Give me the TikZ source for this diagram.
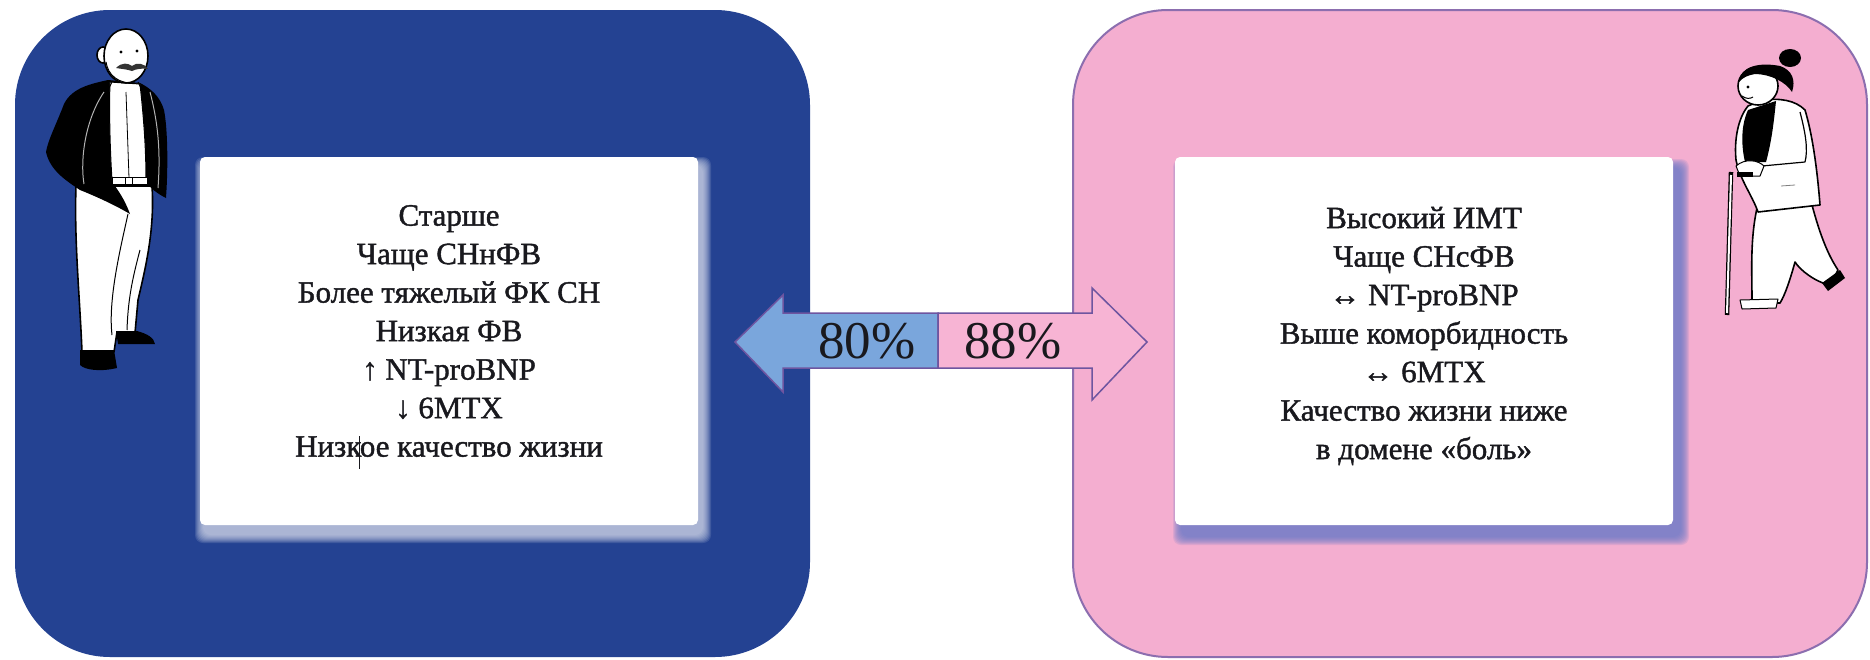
\documentclass[tikz,border=0pt]{standalone}
\usepackage{fontspec}
\setmainfont{Liberation Serif}
\newfontfamily\cardfont[FakeBold=1.3]{Liberation Serif}
\definecolor{panelblue}{RGB}{36,66,146}
\definecolor{panelpink}{RGB}{244,174,208}
\definecolor{pinkedge}{RGB}{140,110,175}
\definecolor{arrowblue}{RGB}{122,166,220}
\definecolor{arrowpink}{RGB}{247,180,212}
\definecolor{arrowedge}{RGB}{110,85,160}
\definecolor{shadowblue}{RGB}{105,122,200}
\definecolor{glowcol}{RGB}{220,223,238}
\definecolor{inktext}{RGB}{25,25,30}
\begin{document}
\begin{tikzpicture}[x=1pt,y=-1pt,
  panel/.style={rounded corners=95pt},
  card/.style={fill=white, rounded corners=5pt},
  cardtext/.style={align=center, text=inktext, font=\cardfont\fontsize{31}{38.5}\selectfont},
  pct/.style={text=inktext, font=\fontsize{53}{53}\selectfont, inner sep=0pt},
  arrowpart/.style={draw=arrowedge, line width=1.5pt, line join=miter},
  figline/.style={draw=black, line width=1.6pt, line join=round},
  thinline/.style={draw=black, line width=1pt, line join=round}]
\useasboundingbox (0,0) rectangle (1870,659);
\fill[white] (0,0) rectangle (1870,659);

% two coloured panels
\fill[panelblue, panel] (15,10) rectangle (810,657);
\filldraw[fill=panelpink, draw=pinkedge, line width=2pt, panel] (1073,10) rectangle (1867,657);

% soft shadows under the cards
\foreach \k in {1,...,9}
  \fill[glowcol, opacity=0.14, rounded corners=8pt]
    (200+4-\k, 157+9-\k) rectangle (698+4+\k, 525+9+\k);
\foreach \k in {1,...,9}
  \fill[shadowblue, opacity=0.16, rounded corners=8pt]
    (1175+7-\k, 157+11-\k) rectangle (1673+7+\k, 525+11+\k);

% white cards
\fill[card] (200,157) rectangle (698,525);
\fill[card] (1175,157) rectangle (1673,525);

\node[cardtext] (lefttext) at (449,331) {Старше\\Чаще СНнФВ\\Более тяжелый ФК СН\\Низкая ФВ\\↑ NT-proBNP\\↓ 6MTX\\Низкое качество жизни};
\node[cardtext] (righttext) at (1424,336) {Высокий ИМТ\\Чаще СНсФВ\\↔ NT-proBNP\\Выше коморбидность\\↔ 6MTX\\Качество жизни ниже\\в домене «боль»};
% thin stroke crossing the last line of the left card
\draw[line width=1pt, inktext] (359,436) -- (359,469);

% double arrow between the panels
\filldraw[arrowpart, fill=arrowblue] (938,313) -- (783,313) -- (783,295) -- (735,342) -- (783,392) -- (783,368) -- (938,368) -- cycle;
\filldraw[arrowpart, fill=arrowpink] (938,313) -- (1092,313) -- (1092,288) -- (1147,342) -- (1092,400) -- (1092,368) -- (938,368) -- cycle;
\node[pct, anchor=base] (leftpct) at (867,358) {80\%};
\node[pct, anchor=base] (rightpct) at (1013,358) {88\%};

% ---- old man ----
% trousers
\filldraw[figline, fill=white] (76,186) -- (152,186) .. controls (155,230) and (145,270) .. (138,300) -- (135,333) -- (117,332) -- (114,352) -- (82,352) .. controls (80,300) and (74,240) .. (76,186) -- cycle;
\draw[thinline] (128,214) .. controls (120,250) and (108,300) .. (112,335);
\draw[thinline] (140,250) .. controls (132,280) and (128,300) .. (127,330);
% shoes
\fill[black] (80,350) -- (114,350) -- (117,368) .. controls (100,372) and (85,370) .. (80,365) -- cycle;
\fill[black] (116,331) -- (137,331) .. controls (148,334) and (154,338) .. (155,344) -- (118,344) -- cycle;
% jacket
\fill[black] (108,80) .. controls (90,84) and (72,88) .. (64,104) .. controls (56,125) and (48,140) .. (46,152) .. controls (50,170) and (65,180) .. (80,190) .. controls (95,196) and (115,205) .. (130,214) .. controls (125,200) and (118,190) .. (112,182) -- (146,182) .. controls (150,188) and (158,194) .. (166,198) .. controls (168,170) and (168,130) .. (164,110) .. controls (160,96) and (150,88) .. (140,83) -- cycle;
\draw[gray!60, line width=1pt] (104,92) .. controls (85,120) and (80,160) .. (84,184);
\draw[gray!60, line width=1pt] (150,92) .. controls (160,130) and (160,160) .. (158,188);
% shirt and belt
\filldraw[thinline, fill=white] (110,82) -- (140,84) .. controls (144,120) and (146,150) .. (146,180) -- (112,180) .. controls (110,150) and (109,110) .. (110,82) -- cycle;
\draw[line width=0.8pt] (126,92) -- (129,178);
\filldraw[thinline, fill=white] (112,177) rectangle (147,184);
\draw[line width=0.8pt] (125,177) rectangle (132,184);
% head with moustache
\filldraw[figline, fill=white] (103,55) ellipse [x radius=6, y radius=8];
\filldraw[figline, fill=white] (126,56) ellipse [x radius=22, y radius=27];
\fill (121,52) circle (1.6);
\fill (137,51) circle (1.6);
\fill[black!80] (116,68) .. controls (122,62) and (128,63) .. (132,66) .. controls (137,62) and (144,63) .. (148,69) .. controls (142,68) and (136,69) .. (132,71) .. controls (126,69) and (121,69) .. (116,68) -- cycle;
\draw[thinline] (106,62) .. controls (108,75) and (118,84) .. (135,83);
\draw[thinline] (112,82) -- (108,90);
\draw[thinline] (138,82) -- (142,90);

% ---- old woman ----
% cane
\draw[line width=4.5pt, black] (1731,172) -- (1727,315);
\draw[line width=2pt, white] (1731,175) -- (1727,313);
% trousers
\filldraw[figline, fill=white] (1757,208) -- (1812,205) .. controls (1820,235) and (1828,255) .. (1838,270) -- (1830,285) .. controls (1815,282) and (1800,270) .. (1795,262) .. controls (1790,280) and (1785,295) .. (1780,303) -- (1752,303) .. controls (1752,270) and (1750,240) .. (1757,208) -- cycle;
% shoes
\filldraw[thinline, fill=white] (1740,300) -- (1778,299) -- (1776,308) -- (1742,309) -- cycle;
\fill[black] (1822,283) -- (1840,270) -- (1845,278) -- (1828,291) -- cycle;
% jacket and top
\filldraw[figline, fill=white] (1762,100) .. controls (1780,98) and (1795,100) .. (1805,110) .. controls (1814,140) and (1818,180) .. (1820,205) -- (1758,212) .. controls (1752,195) and (1740,180) .. (1736,160) .. controls (1734,140) and (1738,118) .. (1748,106) -- cycle;
\fill[black] (1748,110) -- (1776,101) .. controls (1774,120) and (1772,140) .. (1766,162) -- (1745,162) .. controls (1741,145) and (1741,125) .. (1748,110) -- cycle;
\draw[figline, line width=1.2pt] (1800,112) .. controls (1806,135) and (1808,150) .. (1805,162) -- (1762,166);
\draw[gray, line width=0.8pt] (1781,186) -- (1795,185);
% hand on the cane
\filldraw[thinline, fill=white] (1736,166) .. controls (1745,158) and (1758,160) .. (1764,166) -- (1760,176) -- (1740,176) -- cycle;
\fill[black] (1737,172) rectangle (1753,177);
% head
\filldraw[figline, fill=white] (1758,86) ellipse [x radius=20, y radius=19];
\fill[black] (1739,82) .. controls (1740,66) and (1760,62) .. (1780,66) .. controls (1792,70) and (1796,80) .. (1792,92) .. controls (1786,82) and (1770,74) .. (1755,74) .. controls (1748,75) and (1742,78) .. (1739,82) -- cycle;
\fill[black] (1790,58) ellipse [x radius=11, y radius=9];
\fill (1748,87) circle (1.6);
\draw[thinline] (1742,96) .. controls (1746,99) and (1750,99) .. (1753,97);
\end{tikzpicture}
\end{document}
